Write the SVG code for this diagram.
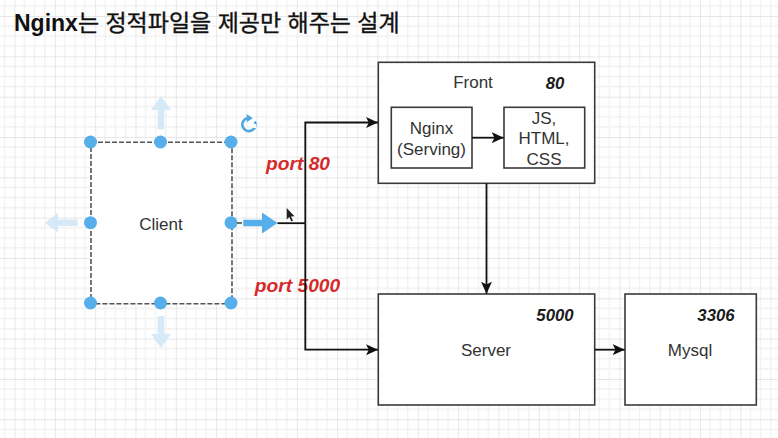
<svg xmlns="http://www.w3.org/2000/svg" width="778" height="438" viewBox="0 0 778 438">
  <style>
    text { font-family: "Liberation Sans", "Noto Sans CJK KR", sans-serif; fill: #333; }
    .lbl { font-size: 17px; text-anchor: middle; }
    .num { font-size: 16.8px; font-weight: bold; font-style: italic; fill: #1a1a1a; text-anchor: middle; }
    .port { font-size: 19.2px; font-weight: bold; font-style: italic; fill: #d62a2a; text-anchor: middle; }
    .box { fill: #fff; stroke: #3a3a3a; stroke-width: 1.6; }
    .wire { fill: none; stroke: #111; stroke-width: 1.8; }
    .h { fill: #56aeea; }
    .fade { fill: #d5e9f7; }
  </style>
  <defs>
    <pattern id="grid" patternUnits="userSpaceOnUse" x="14.5" y="16" width="40.33" height="40.33">
      <path d="M10.08 0V40.33M20.17 0V40.33M30.25 0V40.33M0 10.08H40.33M0 20.17H40.33M0 30.25H40.33" fill="none" stroke="#f1f1f1" stroke-width="1.3"/>
      <path d="M0 0V40.33M0 0H40.33" fill="none" stroke="#dfdfdf" stroke-width="1.4"/>
    </pattern>
    <marker id="ah" markerUnits="userSpaceOnUse" markerWidth="13" markerHeight="13" refX="12" refY="6.5" orient="auto">
      <path d="M0 1 L12 6.5 L0 12 L2.8 6.5 Z" fill="#111"/>
    </marker>
  </defs>
  <rect width="778" height="438" fill="#fff"/>
  <rect width="778" height="438" fill="url(#grid)"/>
  <text id="title" x="14" y="30.5" font-size="23" style="fill:#111"><tspan font-weight="bold">Nginx</tspan><tspan stroke="#111" stroke-width="0.35">는 정적파일을 제공만 해주는 설계</tspan></text>

  <g id="client">
    <rect x="91" y="142.3" width="141" height="161.4" fill="#fff" stroke="#555" stroke-width="1.6" stroke-dasharray="5 2"/>
    <text class="lbl" x="161" y="230">Client</text>
  </g>
  <g id="client-handles">
    <circle class="h" cx="90.5" cy="142" r="6.5"/><circle class="h" cx="160.5" cy="142" r="6.5"/><circle class="h" cx="231" cy="142" r="6.5"/>
    <circle class="h" cx="90.5" cy="222.7" r="6.5"/><circle class="h" cx="231" cy="222.7" r="6.5"/>
    <circle class="h" cx="90.5" cy="303" r="6.5"/><circle class="h" cx="160.5" cy="303" r="6.5"/><circle class="h" cx="231" cy="303" r="6.5"/>
    <path class="fade" d="M161 96L171 110H164.3V129.5H157.7V110H151Z"/>
    <path class="fade" d="M45 222.7L58 212.7V219.4H77.7V226H58V232.7Z"/>
    <path class="fade" d="M161 348L151 334H157.7V316H164.3V334H171Z"/>
    <path class="h" d="M277.5 223L262 212.5V219.7H243.3V226.3H262V233.5Z"/>
    <path d="M242 223H237" stroke="#444" stroke-width="1.5"/>
    <path d="M247 118.2A6.6 6.6 0 1 0 254.8 121.5" fill="none" stroke="#4fa8e2" stroke-width="2.6"/>
    <path d="M254.8 124V128" fill="none" stroke="#fff" stroke-width="3"/>
    <path d="M246.7 114L252.7 118.3L246.7 122.3Z" fill="#4fa8e2"/>
  </g>

  <g id="labels">
    <text class="port" x="298" y="170">port 80</text>
    <text class="port" x="297.5" y="292">port 5000</text>
  </g>

  <g id="front">
    <rect class="box" x="378.3" y="62.3" width="216.4" height="121"/>
    <text class="lbl" x="473" y="88">Front</text>
    <text class="num" x="555" y="88.5">80</text>
  </g>
  <g id="nginx">
    <rect class="box" x="391.3" y="107.3" width="80.7" height="60.7"/>
    <text class="lbl" x="431.5" y="134">Nginx</text>
    <text class="lbl" x="431.5" y="154.5">(Serving)</text>
  </g>
  <g id="static">
    <rect class="box" x="504" y="107.3" width="80.7" height="60.7"/>
    <text class="lbl" x="544" y="124">JS,</text>
    <text class="lbl" x="544" y="144">HTML,</text>
    <text class="lbl" x="544" y="164.5">CSS</text>
  </g>
  <g id="server">
    <rect class="box" x="378.3" y="294" width="216.4" height="111"/>
    <text class="lbl" x="486" y="356">Server</text>
    <text class="num" x="555" y="320.5">5000</text>
  </g>
  <g id="mysql">
    <rect class="box" x="625" y="294" width="131.3" height="111"/>
    <text class="lbl" x="690" y="356">Mysql</text>
    <text class="num" x="716" y="320.5">3306</text>
  </g>

  <g id="connectors">
    <path class="wire" d="M277.5 223.2H305.3"/>
    <path class="wire" d="M305.3 223.2V122.5H378" marker-end="url(#ah)"/>
    <path class="wire" d="M305.3 223.2V349.7H378" marker-end="url(#ah)"/>
    <path class="wire" d="M472 137.7H503.7" marker-end="url(#ah)"/>
    <path class="wire" d="M486.5 183.3V293.7" marker-end="url(#ah)"/>
    <path class="wire" d="M594.7 349.7H624.7" marker-end="url(#ah)"/>
  </g>
  <path id="cursor" d="M286.7 208L286.7 219.5L289.3 217L291.3 221.5L293 220.7L291 216.5L294.5 216.2Z" fill="#222"/>
</svg>
